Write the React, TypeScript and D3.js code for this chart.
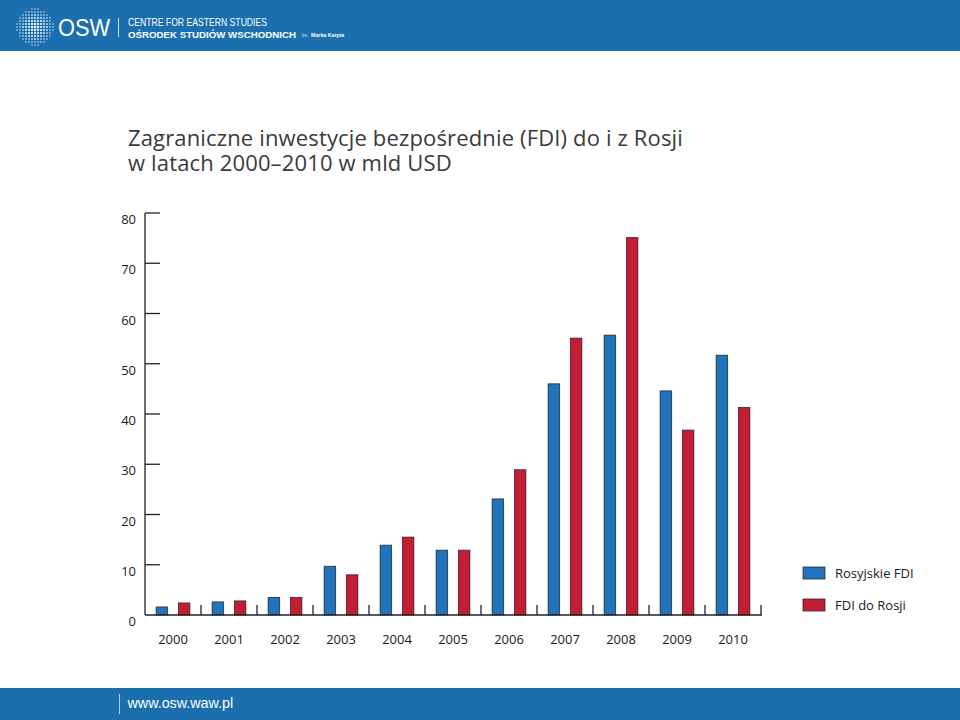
import React from "react";
import * as d3 from "d3";

const years = ["2000", "2001", "2002", "2003", "2004", "2005", "2006", "2007", "2008", "2009", "2010"];
const russianFDI = [1.6, 2.6, 3.5, 9.7, 13.9, 12.9, 23.1, 46.0, 55.7, 44.6, 51.7];
const fdiToRussia = [2.4, 2.8, 3.5, 8.0, 15.5, 12.9, 28.9, 55.1, 75.1, 36.8, 41.3];
const seriesNames = ["Rosyjskie FDI", "FDI do Rosji"];
const seriesColors = ["#1f74bb", "#c21d33"];
const yTicks = [0, 10, 20, 30, 40, 50, 60, 70, 80];
const titleLines = ["Zagraniczne inwestycje bezpośrednie (FDI) do i z Rosji", "w latach 2000–2010 w mld USD"];

const W = 960, H = 720;
const x0 = 145, x1 = 761, yBase = 615, yTop = 213;
const font = "'Open Sans', 'Noto Sans', sans-serif";
const hfont = "'Liberation Sans', Arial, sans-serif";

export default function App() {
  const x = d3.scaleBand<string>().domain(years).range([x0, x1]).paddingInner(0).paddingOuter(0);
  const xi = d3.scaleBand<string>().domain(["a", "b"]).range([0, x.bandwidth()]).paddingInner(0.48).paddingOuter(0.5);
  const y = d3.scaleLinear().domain([0, 80]).range([yBase, yTop]);
  const series = [russianFDI, fdiToRussia];
  const keys = ["a", "b"];

  // globe dots
  const dots: { cx: number; cy: number; r: number }[] = [];
  const gcx = 35, gcy = 27, gr = 18.5;
  for (let i = -6; i <= 6; i++) {
    for (let j = -6; j <= 6; j++) {
      const dx = i * 3, dy = j * 3;
      const d = Math.sqrt(dx * dx + dy * dy);
      if (d <= gr) {
        const r = 1.3 - (d / gr) * 0.65;
        dots.push({ cx: gcx + dx, cy: gcy + dy, r });
      }
    }
  }

  return (
    <svg width={W} height={H} style={{ position: "absolute", left: 0, top: 0, background: "#fff" }} fontFamily={font}>
      {/* header */}
      <rect x={0} y={0} width={W} height={51} fill="#1b6fae" />
      {dots.map((d, i) => (
        <circle key={i} cx={d.cx} cy={d.cy} r={d.r} fill="#ffffff" opacity={0.92} />
      ))}
      <text x={58} y={36} fill="#fff" fontSize={24} fontFamily={hfont} textLength={52} lengthAdjust="spacingAndGlyphs">OSW</text>
      <line x1={118.5} x2={118.5} y1={18} y2={37} stroke="#fff" strokeWidth={1} opacity={0.8} />
      <text x={128} y={26} fill="#fff" fontSize={11} fontFamily={hfont} textLength={139} lengthAdjust="spacingAndGlyphs">CENTRE FOR EASTERN STUDIES</text>
      <text x={128} y={37.7} fill="#fff" fontSize={9.7} fontWeight="bold" fontFamily={hfont}>OŚRODEK STUDIÓW WSCHODNICH</text>
      <text x={302} y={37} fill="#fff" fontSize={5} fontFamily={hfont} opacity={0.8}>im.</text>
      <text x={311} y={37} fill="#fff" fontSize={5.3} fontWeight="bold" fontFamily={hfont}>Marka Karpia</text>

      {/* title */}
      {titleLines.map((t, i) => (
        <text key={i} x={128} y={146 + i * 25} fill="#3a3a3a" fontSize={22} letterSpacing={0.15}>{t}</text>
      ))}

      {/* y axis */}
      <line x1={x0} x2={x0} y1={y(80)} y2={yBase} stroke="#222" strokeWidth={1.3} />
      {yTicks.map((t) => (
        <g key={t}>
          {t > 0 && <line x1={x0} x2={x0 + 15} y1={y(t)} y2={y(t)} stroke="#222" strokeWidth={1.3} />}
          <text x={136} y={y(t) + 11} textAnchor="end" fontSize={13} fill="#1a1a1a">{t}</text>
        </g>
      ))}

      {/* bars */}
      {years.map((yr, i) => (
        <g key={yr}>
          {series.map((s, k) => (
            <rect
              key={k}
              x={(x(yr) as number) + (xi(keys[k]) as number)}
              y={y(s[i])}
              width={xi.bandwidth()}
              height={yBase - y(s[i])}
              fill={seriesColors[k]}
              stroke="#2a2a3a"
              strokeWidth={0.8}
            />
          ))}
        </g>
      ))}

      {/* x axis */}
      <line x1={x0} x2={x1 + 1} y1={yBase} y2={yBase} stroke="#222" strokeWidth={1.3} />
      {years.map((yr) => (
        <g key={yr}>
          <line x1={(x(yr) as number) + x.bandwidth()} x2={(x(yr) as number) + x.bandwidth()} y1={yBase - 10} y2={yBase} stroke="#222" strokeWidth={1.3} />
          <text x={(x(yr) as number) + x.bandwidth() / 2} y={643.5} textAnchor="middle" fontSize={13} fill="#1a1a1a">{yr}</text>
        </g>
      ))}

      {/* legend */}
      {seriesNames.map((n, k) => (
        <g key={n}>
          <rect x={803} y={567 + k * 32} width={22} height={12} fill={seriesColors[k]} stroke="#2a2a3a" strokeWidth={0.8} />
          <text x={835} y={578 + k * 32} fontSize={13} fill="#1a1a1a">{n}</text>
        </g>
      ))}

      {/* footer */}
      <rect x={0} y={688} width={W} height={32} fill="#1b6fae" />
      <line x1={119.5} x2={119.5} y1={694} y2={714} stroke="#fff" strokeWidth={1} opacity={0.7} />
      <text x={127.5} y={708} fill="#fff" fontSize={14.3} fontFamily={hfont}>www.osw.waw.pl</text>
    </svg>
  );
}
